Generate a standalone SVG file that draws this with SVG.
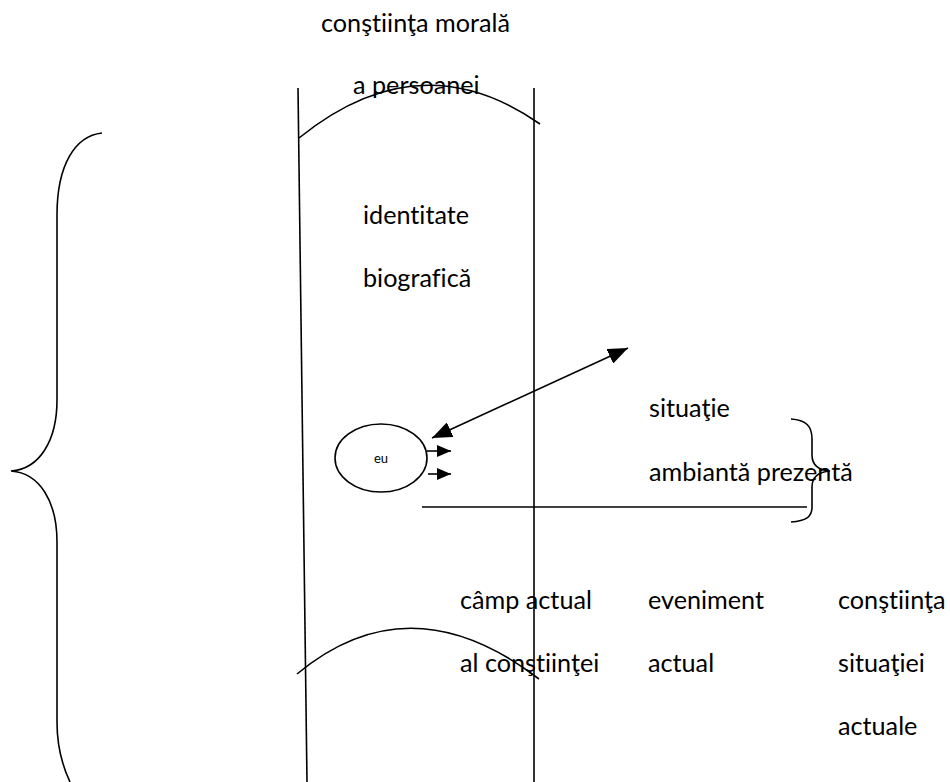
<svg xmlns="http://www.w3.org/2000/svg" width="950" height="782" viewBox="0 0 950 782">
  <style>
    .ln { fill: none; stroke: #000; stroke-width: 1.6; }
    .t { font-family: Lato, "Liberation Sans", Arial, sans-serif; font-size: 25.2px; fill: #000; font-variant-ligatures: none; }
    .ts { font-family: Lato, "Liberation Sans", Arial, sans-serif; font-size: 13px; fill: #000; }
  </style>
  <defs>
    <marker id="big" viewBox="0 0 20 16" refX="20" refY="8" markerWidth="20" markerHeight="16" markerUnits="userSpaceOnUse" orient="auto-start-reverse">
      <path d="M0,0 L20,8 L0,16 z" fill="#000"/>
    </marker>
    <marker id="small" viewBox="0 0 14 12" refX="14" refY="6" markerWidth="14" markerHeight="12" markerUnits="userSpaceOnUse" orient="auto">
      <path d="M0,0 L14,6 L0,12 z" fill="#000"/>
    </marker>
  </defs>
  <rect width="950" height="782" fill="#fff"/>

  <g id="column">
    <line class="ln" x1="298" y1="88" x2="307" y2="782"/>
    <line class="ln" x1="534" y1="88" x2="534" y2="782"/>
    <path class="ln" d="M299,138 Q420,40 540,124"/>
    <path class="ln" d="M297,674 Q410,580 539,679"/>
  </g>

  <g id="left-brace">
    <path class="ln" d="M102,133 C75,136 57,165 57,215 L57,400 C57,440 40,469 11,471 C40,473 57,502 57,542 L57,722 C57,747 62,765 70,782"/>
  </g>

  <g id="right-brace">
    <path class="ln" d="M791,419 C806,420 812,426 812,439 L812,455 C812,465 818,470 830,471 C818,472 812,477 812,487 L812,507 C812,517 806,521 791,522"/>
  </g>

  <g id="title">
    <text class="t" x="321" y="32">conştiinţa morală</text>
    <text class="t" x="353" y="94">a persoanei</text>
  </g>

  <g id="identity">
    <text class="t" x="363" y="224">identitate</text>
    <text class="t" x="363" y="287">biografică</text>
  </g>

  <g id="eu">
    <ellipse class="ln" cx="381" cy="458" rx="46" ry="34"/>
    <text class="ts" x="381" y="463" text-anchor="middle">eu</text>
  </g>

  <g id="situation">
    <text class="t" x="649" y="417">situaţie</text>
    <text class="t" x="649" y="481">ambiantă prezentă</text>
  </g>

  <g id="field">
    <text class="t" x="460" y="609">câmp actual</text>
    <text class="t" x="460" y="672">al conştiinţei</text>
  </g>

  <g id="event">
    <text class="t" x="648" y="609">eveniment</text>
    <text class="t" x="648" y="672">actual</text>
  </g>

  <g id="awareness">
    <text class="t" x="838" y="609">conştiinţa</text>
    <text class="t" x="838" y="672">situaţiei</text>
    <text class="t" x="838" y="735">actuale</text>
  </g>

  <g id="connectors">
    <line class="ln" x1="432" y1="438" x2="628" y2="348" stroke-width="2.2" marker-start="url(#big)" marker-end="url(#big)"/>
    <line class="ln" x1="427" y1="451" x2="451" y2="451" stroke-width="2.2" marker-end="url(#small)"/>
    <line class="ln" x1="428" y1="474" x2="451" y2="474" stroke-width="2.2" marker-end="url(#small)"/>
    <line class="ln" x1="422" y1="507" x2="807" y2="507"/>
  </g>
</svg>
